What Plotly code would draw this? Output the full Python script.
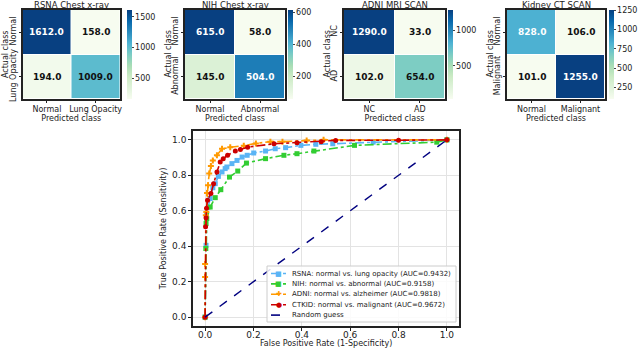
import plotly.graph_objects as go

# confusion matrices (rows = actual, cols = predicted)
cm_titles = ["RSNA Chest x-ray", "NIH Chest x-ray", "ADNI MRI SCAN", "Kidney CT SCAN"]
cm_labels = [["Normal", "Lung Opacity"], ["Normal", "Abnormal"], ["NC", "AD"], ["Normal", "Malignant"]]
rsna_cm = [[1612, 158], [194, 1009]]
nih_cm = [[615, 58], [145, 504]]
adni_cm = [[1290, 33], [102, 654]]
kidney_cm = [[828, 106], [101, 1255]]
cm_values = [rsna_cm, nih_cm, adni_cm, kidney_cm]
cb_dticks = [500, 200, 500, 250]

# ROC curves
rsna_fpr = [0, 0.004, 0.006, 0.021, 0.032, 0.042, 0.055, 0.07, 0.083, 0.09, 0.111, 0.132, 0.153, 0.174,
            0.201, 0.25, 0.29, 0.333, 0.396, 0.458, 0.528, 0.695, 1.0]
rsna_tpr = [0, 0.405, 0.584, 0.669, 0.73, 0.753, 0.794, 0.819, 0.838, 0.847, 0.866, 0.884, 0.903, 0.913,
            0.926, 0.937, 0.95, 0.956, 0.969, 0.975, 0.978, 0.987, 1.0]
nih_fpr = [0, 0.003, 0.004, 0.007, 0.021, 0.042, 0.065, 0.101, 0.135, 0.171, 0.25, 0.326, 0.38, 0.45,
           0.618, 0.958, 1.0]
nih_tpr = [0, 0.387, 0.528, 0.556, 0.621, 0.674, 0.719, 0.79, 0.824, 0.869, 0.894, 0.913, 0.922, 0.937,
           0.969, 0.987, 1.0]
adni_fpr = [0, 0, 0, 0.003, 0.005, 0.008, 0.012, 0.017, 0.024, 0.032, 0.049, 0.07, 0.104, 0.16, 0.21,
            0.27, 0.32, 0.42, 0.49, 1.0]
adni_tpr = [0, 0.227, 0.30, 0.575, 0.593, 0.70, 0.744, 0.81, 0.852, 0.884, 0.913, 0.95, 0.958, 0.967, 0.98,
            0.99, 0.99, 0.997, 1.0, 1.0]
ctkid_fpr = [0, 0.002, 0.004, 0.006, 0.01, 0.024, 0.035, 0.049, 0.0625, 0.075, 0.093, 0.125, 0.146, 0.176,
             0.285, 0.38, 0.48, 0.54, 0.8, 1.0]
ctkid_tpr = [0, 0.51, 0.56, 0.614, 0.66, 0.697, 0.753, 0.819, 0.875, 0.894, 0.913, 0.937, 0.945, 0.959,
             0.978, 0.984, 0.99, 0.997, 0.998, 1.0]

roc_names = ["RSNA: normal vs. lung opacity (AUC=0.9432)", "NIH: normal vs. abnormal (AUC=0.9158)",
             "ADNI: normal vs. alzheimer (AUC=0.9818)", "CTKID: normal vs. malignant (AUC=0.9672)"]
roc_fprs = [rsna_fpr, nih_fpr, adni_fpr, ctkid_fpr]
roc_tprs = [rsna_tpr, nih_tpr, adni_tpr, ctkid_tpr]
roc_colors = ["#5ab4f5", "#32cd32", "#ff9900", "#cc0000"]
roc_symbols = ["square", "square", "cross", "circle"]
legend_glyphs = ["■", "■", "✚", "●"]
guess_name = "Random guess"
guess_color = "#000080"

W, H = 640, 349
FONT = "DejaVu Sans"
TXT = "#222"


def px(x):
    return x / W


def py(y):
    return 1 - y / H


fig = go.Figure()
layout = {}
annotations = []
shapes = []

# pixel boxes for the four heatmaps (left, right) and colorbar left edge
hm_x = [(22.5, 120), (185, 285), (344, 445), (507, 605)]
cb_x = [127, 288, 448, 609]
hm_top, hm_bot = 10, 99

for i in range(4):
    n = i + 1
    z = cm_values[i]
    labels = cm_labels[i]
    zmin = min(min(r) for r in z)
    zmax = max(max(r) for r in z)
    fig.add_trace(go.Heatmap(
        z=z, x=labels, y=labels, xaxis=f"x{n}", yaxis=f"y{n}",
        colorscale="GnBu", zmin=zmin, zmax=zmax, xgap=1, ygap=1,
        hoverinfo="skip",
        colorbar=dict(
            x=px(cb_x[i]), xanchor="left", xpad=0, ypad=0, thickness=5,
            lenmode="pixels", len=hm_bot - hm_top,
            y=py((hm_top + hm_bot) / 2), yanchor="middle",
            outlinewidth=0, ticks="outside", ticklen=2, tickcolor="#444",
            dtick=cb_dticks[i], tickfont=dict(size=8, family=FONT, color=TXT),
        ),
    ))
    xd = [px(hm_x[i][0]), px(hm_x[i][1])]
    yd = [py(hm_bot), py(hm_top)]
    layout[f"xaxis{n}"] = dict(
        domain=xd, anchor=f"y{n}", showgrid=False, zeroline=False, automargin=False,
        showline=True, mirror=True, linecolor=TXT, linewidth=1.5,
        ticks="outside", ticklen=2, tickcolor=TXT,
        tickfont=dict(size=8, family=FONT, color=TXT),
        title=dict(text="Predicted class", font=dict(size=8, family=FONT, color=TXT), standoff=1),
    )
    layout[f"yaxis{n}"] = dict(
        domain=yd, anchor=f"x{n}", showgrid=False, zeroline=False, autorange="reversed", automargin=False,
        showline=True, mirror=True, linecolor=TXT, linewidth=1.5,
        ticks="outside", ticklen=2, tickcolor=TXT, tickangle=-90,
        tickfont=dict(size=8, family=FONT, color=TXT),
    )
    annotations.append(dict(
        text=cm_titles[i], xref="paper", yref="paper", x=sum(xd) / 2, y=py(5),
        xanchor="center", yanchor="middle", showarrow=False,
        font=dict(size=8.5, family=FONT, color=TXT),
    ))
    annotations.append(dict(
        text="Actual class", xref="paper", yref="paper", x=px(hm_x[i][0] - 17), y=sum(yd) / 2,
        xanchor="center", yanchor="middle", textangle=-90, showarrow=False,
        font=dict(size=8, family=FONT, color=TXT),
    ))
    for r in range(2):
        for c in range(2):
            v = z[r][c]
            frac = (v - zmin) / (zmax - zmin)
            annotations.append(dict(
                text=f"<b>{v:.1f}</b>", xref=f"x{n}", yref=f"y{n}", x=labels[c], y=labels[r],
                showarrow=False, font=dict(size=9, family=FONT, color="white" if frac > 0.6 else "#111"),
            ))

# ROC plot
for i in range(4):
    fig.add_trace(go.Scatter(
        x=roc_fprs[i], y=roc_tprs[i], xaxis="x5", yaxis="y5", mode="lines+markers",
        name=roc_names[i],
        line=dict(color=roc_colors[i], width=1.6, dash="dashdot"),
        marker=dict(color=roc_colors[i], symbol=roc_symbols[i], size=5),
    ))
fig.add_trace(go.Scatter(
    x=[0, 1], y=[0, 1], xaxis="x5", yaxis="y5", mode="lines", name=guess_name,
    line=dict(color=guess_color, width=1.4, dash="dash"),
))

ticks01 = [0, 0.2, 0.4, 0.6, 0.8, 1.0]
layout["xaxis5"] = dict(
    domain=[px(193), px(459)], anchor="y5", range=[-0.05, 1.05], automargin=False,
    tickvals=ticks01, ticktext=[f"{t:.1f}" for t in ticks01],
    showgrid=True, gridcolor="#e3e3e3", zeroline=False,
    showline=True, mirror=True, linecolor=TXT, linewidth=1.5,
    ticks="outside", ticklen=3, tickcolor=TXT, ticklabelstandoff=-4,
    tickfont=dict(size=9, family=FONT, color=TXT),
)
layout["yaxis5"] = dict(
    domain=[py(326), py(131)], anchor="x5", range=[-0.05, 1.05], automargin=False,
    tickvals=ticks01, ticktext=[f"{t:.1f}" for t in ticks01],
    showgrid=True, gridcolor="#e3e3e3", zeroline=False,
    showline=True, mirror=True, linecolor=TXT, linewidth=1.5,
    ticks="outside", ticklen=3, tickcolor=TXT,
    tickfont=dict(size=9, family=FONT, color=TXT),
    title=dict(text="True Positive Rate (Sensitivity)", font=dict(size=8, family=FONT, color=TXT), standoff=4),
)
annotations.append(dict(
    text="False Positive Rate (1-Specificity)", xref="paper", yref="paper", x=px(326), y=py(343),
    xanchor="center", yanchor="middle", showarrow=False,
    font=dict(size=8, family=FONT, color=TXT),
))

# hand-drawn compact legend (matplotlib-style spacing)
shapes.append(dict(type="rect", xref="paper", yref="paper", x0=px(267), x1=px(456), y0=py(322), y1=py(266),
                   fillcolor="rgba(255,255,255,0.85)", line=dict(color="#cccccc", width=1), layer="above"))
leg_names = roc_names + [guess_name]
leg_colors = roc_colors + [guess_color]
for k in range(5):
    yk = 273.5 + k * 10.4
    shapes.append(dict(type="line", xref="paper", yref="paper", x0=px(271), x1=px(286), y0=py(yk), y1=py(yk),
                       line=dict(color=leg_colors[k], width=1.6, dash="dashdot" if k < 4 else "dash"),
                       layer="above"))
    if k < 4:
        annotations.append(dict(
            text=legend_glyphs[k], xref="paper", yref="paper", x=px(278.5), y=py(yk),
            xanchor="center", yanchor="middle", showarrow=False,
            font=dict(size=7, family=FONT, color=leg_colors[k]),
        ))
    annotations.append(dict(
        text=leg_names[k], xref="paper", yref="paper", x=px(290), y=py(yk),
        xanchor="left", yanchor="middle", showarrow=False,
        font=dict(size=7, family=FONT, color=TXT),
    ))

fig.update_layout(
    width=W, height=H, margin=dict(l=0, r=0, t=0, b=0),
    paper_bgcolor="white", plot_bgcolor="white",
    annotations=annotations, shapes=shapes,
    showlegend=False,
    **layout,
)

# drop the default 8px body margin so the figure sits at the window's corner
fig.write_html("out.html", config={"displayModeBar": False},
               post_script="document.body.style.margin='0';document.body.style.overflow='hidden';")
